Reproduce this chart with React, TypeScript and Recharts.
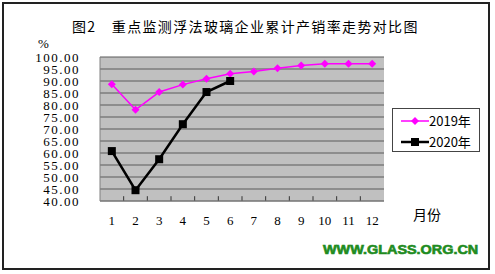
import React from "react";
import { LineChart, Line, XAxis, YAxis, CartesianGrid, Legend, ReferenceLine } from "recharts";

const months = [1, 2, 3, 4, 5, 6, 7, 8, 9, 10, 11, 12];
const rate2019 = [88.6, 78.0, 85.4, 88.5, 90.9, 93.0, 94.0, 95.3, 96.5, 97.2, 97.2, 97.2];
const rate2020 = [60.8, 44.5, 57.4, 72.0, 85.4, 90.0];
const yTicks = [40, 45, 50, 55, 60, 65, 70, 75, 80, 85, 90, 95, 100];
const bandEdges = [1.5, 2.5, 3.5, 4.5, 5.5, 6.5, 7.5, 8.5, 9.5, 10.5, 11.5];

const data = months.map((m, i) => ({
	month: m,
	y2019: rate2019[i],
	y2020: i < rate2020.length ? rate2020[i] : null,
}));

const serif = "'Liberation Serif', 'DejaVu Serif', serif";
const cjk = "'Noto Sans CJK SC', sans-serif";

function Diamond(props: any) {
	const { cx, cy } = props;
	if (cx == null || cy == null) return null;
	const r = 4;
	return <path d={`M${cx},${cy - r}L${cx + r},${cy}L${cx},${cy + r}L${cx - r},${cy}Z`} fill="#ff00ff" />;
}

function Square(props: any) {
	const { cx, cy } = props;
	if (cx == null || cy == null) return null;
	return <rect x={cx - 4} y={cy - 4} width={8} height={8} fill="#000" />;
}

function LegendBox() {
	const rows = [
		{ label: "2019年", color: "#ff00ff", width: 1.5, square: false },
		{ label: "2020年", color: "#000", width: 2.5, square: true },
	];
	return (
		<div
			style={{
				width: 88,
				height: 44,
				border: "1px solid #444",
				background: "#fff",
				boxSizing: "border-box",
				paddingTop: 2,
			}}
		>
			{rows.map((r) => (
				<div key={r.label} style={{ display: "flex", alignItems: "center", height: 19, marginBottom: 2 }}>
					<svg width={36} height={12} style={{ marginLeft: 6 }}>
						<line x1={2} y1={6} x2={30} y2={6} stroke={r.color} strokeWidth={r.width} />
						{r.square ? (
							<rect x={12} y={2} width={8} height={8} fill="#000" />
						) : (
							<path d="M16,2L20,6L16,10L12,6Z" fill="#ff00ff" />
						)}
					</svg>
					<span style={{ fontFamily: cjk, fontSize: 13, color: "#000", marginLeft: -6 }}>{r.label}</span>
				</div>
			))}
		</div>
	);
}

export default function App() {
	return (
		<div style={{ position: "absolute", left: 0, top: 0, width: 495, height: 274, background: "#fff" }}>
			<div
				style={{
					position: "absolute",
					left: 2,
					top: 2,
					width: 488,
					height: 268,
					border: "2px solid #222",
					boxSizing: "border-box",
				}}
			/>
			<div
				style={{
					position: "absolute",
					left: 72,
					top: 17,
					fontFamily: cjk,
					fontSize: 14,
					letterSpacing: 1.35,
					whiteSpace: "nowrap",
					lineHeight: "18px",
				}}
			>
				图2　重点监测浮法玻璃企业累计产销率走势对比图
			</div>
			<div style={{ position: "absolute", left: 38, top: 36, fontFamily: serif, fontSize: 13, lineHeight: "16px" }}>%</div>
			<div style={{ position: "absolute", left: 413, top: 205, fontFamily: cjk, fontSize: 14, lineHeight: "18px" }}>
				月份
			</div>
			<div
				style={{
					position: "absolute",
					left: 323,
					top: 243,
					fontFamily: "'Liberation Sans', Arial, sans-serif",
					fontWeight: 900,
					fontSize: 12,
					lineHeight: "14px",
					color: "#1f8c1f",
					WebkitTextStroke: "0.6px #1f8c1f",
					transform: "scaleX(1.2)",
					transformOrigin: "left center",
					whiteSpace: "nowrap",
				}}
			>
				WWW.GLASS.ORG.CN
			</div>
			<LineChart
				width={495}
				height={274}
				data={data}
				margin={{ top: 57, right: 111, bottom: 33, left: 0 }}
				style={{ position: "absolute", left: 0, top: 0 }}
			>
				<CartesianGrid fill="#c0c0c0" vertical={false} stroke="#5a5a5a" strokeWidth={1} />
				<XAxis
					dataKey="month"
					type="number"
					domain={[0.5, 12.5]}
					ticks={months}
					interval={0}
					tickLine={false}
					axisLine={{ stroke: "#808080" }}
					tickSize={0}
					tickMargin={15}
					tick={{ fontFamily: serif, fontSize: 13, fill: "#000" }}
					height={40}
				/>
				<YAxis
					domain={[40, 100]}
					ticks={yTicks}
					interval={0}
					width={100}
					tickLine={false}
					tickSize={0}
					tickMargin={20}
					axisLine={{ stroke: "#808080" }}
					tickFormatter={(v: number) => v.toFixed(2)}
					tick={{ fontFamily: serif, fontSize: 13, fill: "#000", letterSpacing: 1.5 }}
				/>
				<YAxis
					yAxisId="right"
					orientation="right"
					domain={[40, 100]}
					width={0}
					tick={false}
					tickLine={false}
					axisLine={{ stroke: "#808080" }}
				/>
				{bandEdges.map((x) => (
					<ReferenceLine
						key={x}
						segment={[
							{ x, y: 40 },
							{ x, y: 42 },
						]}
						stroke="#333"
						strokeWidth={1}
					/>
				))}
				<Line
					type="linear"
					dataKey="y2019"
					stroke="#ff00ff"
					strokeWidth={1.5}
					dot={<Diamond />}
					activeDot={false}
					isAnimationActive={false}
				/>
				<Line
					type="linear"
					dataKey="y2020"
					stroke="#000"
					strokeWidth={2.5}
					dot={<Square />}
					activeDot={false}
					connectNulls={false}
					isAnimationActive={false}
				/>
				<Legend
					layout="vertical"
					align="center"
					verticalAlign="middle"
					content={() => <LegendBox />}
					wrapperStyle={{ left: 392, top: 108, width: 88, height: 44 }}
				/>
			</LineChart>
		</div>
	);
}
